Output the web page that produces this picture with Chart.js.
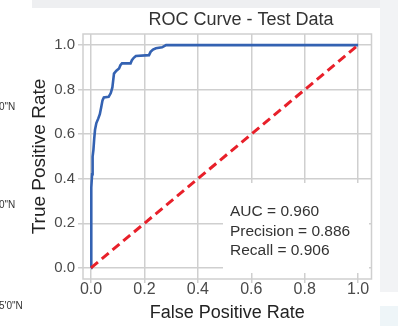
<!DOCTYPE html>
<html>
<head>
<meta charset="utf-8">
<script src="https://cdn.jsdelivr.net/npm/chart.js@4.4.1/dist/chart.umd.min.js"></script>
<style>
  html, body { margin: 0; padding: 0; background: #ffffff; }
  #wrap { position: relative; width: 398px; height: 326px; }
  canvas { display: block; }
</style>
</head>
<body>
<div id="wrap"><canvas id="c" width="398" height="326"></canvas></div>
<script>
// ---- data ----
const fpr = [0, 0, 0.002, 0.004, 0.005, 0.007, 0.009, 0.012, 0.015, 0.020, 0.027, 0.033, 0.038, 0.043, 0.048, 0.066, 0.074, 0.080, 0.086, 0.095, 0.105, 0.110, 0.116, 0.148, 0.153, 0.160, 0.168, 0.217, 0.223, 0.232, 0.243, 0.266, 0.281, 1.0];
const tpr = [0, 0.30, 0.36, 0.42, 0.45, 0.50, 0.53, 0.58, 0.62, 0.65, 0.67, 0.69, 0.72, 0.752, 0.765, 0.768, 0.785, 0.81, 0.872, 0.885, 0.895, 0.91, 0.918, 0.918, 0.932, 0.943, 0.951, 0.955, 0.970, 0.980, 0.986, 0.990, 1.0, 1.0];
const chanceX = [0, 1];
const chanceY = [0, 1];
const tickValues = [0, 0.2, 0.4, 0.6, 0.8, 1.0];
const titleText = 'ROC Curve - Test Data';
const xTitle = 'False Positive Rate';
const yTitle = 'True Positive Rate';
const statLines = ['AUC = 0.960', 'Precision = 0.886', 'Recall = 0.906'];
const mapLabels = ['0"N', '0"N', '5\'0"N'];

const FONT = "'Liberation Sans', Arial, Helvetica, sans-serif";
const GRID = '#cfcfcf';

const rocPoints = fpr.map((x, i) => ({ x: x, y: tpr[i] }));
const chancePoints = chanceX.map((x, i) => ({ x: x, y: chanceY[i] }));

const decor = {
  id: 'decor',
  beforeDraw(chart) {
    const ctx = chart.ctx;
    ctx.save();
    ctx.fillStyle = '#ffffff';
    ctx.fillRect(0, 0, chart.width, chart.height);
    ctx.fillStyle = '#eeeff1';
    ctx.fillRect(32, 0, chart.width - 32, 8);
    ctx.fillStyle = '#f2f3f5';
    ctx.fillRect(380, 0, chart.width - 380, 292);
    ctx.fillStyle = '#eef5f8';
    ctx.fillRect(380, 306, chart.width - 380, 20);
    // cropped map labels at far left
    ctx.fillStyle = '#333333';
    ctx.font = '10px ' + FONT;
    ctx.textBaseline = 'middle';
    ctx.textAlign = 'left';
    ctx.fillText(mapLabels[0], -1, 107);
    ctx.fillText(mapLabels[1], -1, 205);
    ctx.fillText(mapLabels[2], -1, 306);
    // title
    ctx.fillStyle = '#333333';
    ctx.font = '18px ' + FONT;
    ctx.textAlign = 'center';
    ctx.fillText(titleText, 241, 20);
    ctx.restore();
  },
  afterDatasetsDraw(chart) {
    const ctx = chart.ctx;
    const ca = chart.chartArea;
    ctx.save();
    // stats box
    const bx = ca.right - 148.5, by = ca.bottom - 96, bw = 146, bh = 90;
    ctx.fillStyle = '#ffffff';
    ctx.fillRect(bx, by, bw, bh);
    ctx.fillStyle = '#333333';
    ctx.font = '15.5px ' + FONT;
    ctx.textBaseline = 'middle';
    ctx.textAlign = 'left';
    statLines.forEach((t, i) => ctx.fillText(t, bx + 7, by + 29 + i * 19.5));
    // frame
    ctx.strokeStyle = GRID;
    ctx.lineWidth = 1.5;
    ctx.strokeRect(ca.left, ca.top, ca.right - ca.left, ca.bottom - ca.top);
    ctx.restore();
  }
};

new Chart(document.getElementById('c'), {
  type: 'line',
  data: {
    datasets: [
      {
        data: rocPoints,
        borderColor: '#3462b2',
        borderWidth: 2.6,
        pointRadius: 0,
        tension: 0,
        fill: false,
        order: 2
      },
      {
        data: chancePoints,
        borderColor: '#e8202a',
        borderWidth: 3,
        borderDash: [9, 5],
        pointRadius: 0,
        tension: 0,
        fill: false,
        order: 1
      }
    ]
  },
  options: {
    responsive: false,
    animation: false,
    devicePixelRatio: 1,
    layout: { padding: { top: 34, right: 26.5, left: 0, bottom: 0 } },
    plugins: { legend: { display: false }, title: { display: false }, tooltip: { enabled: false } },
    scales: {
      x: {
        type: 'linear',
        min: -0.03,
        max: 1.05,
        afterBuildTicks(s) { s.ticks = tickValues.map(v => ({ value: v })); },
        afterFit(s) { s.height = 47; },
        grid: { color: GRID, lineWidth: 1.5, tickLength: 4, tickColor: GRID },
        border: { display: false },
        ticks: {
          color: '#4a4a4a',
          font: { family: FONT, size: 16, lineHeight: 1 },
          padding: -1,
          maxRotation: 0,
          callback: v => Number(v).toFixed(1)
        },
        title: { display: true, text: xTitle, color: '#222222', font: { family: FONT, size: 18 }, padding: { top: 0, bottom: 2 } }
      },
      y: {
        type: 'linear',
        min: -0.05,
        max: 1.05,
        afterBuildTicks(s) { s.ticks = tickValues.map(v => ({ value: v })); },
        afterFit(s) { s.width = 83; },
        grid: { color: GRID, lineWidth: 1.5, tickLength: 5, tickColor: GRID },
        border: { display: false },
        ticks: {
          color: '#4a4a4a',
          font: { family: FONT, size: 15 },
          padding: 3,
          callback: v => Number(v).toFixed(1)
        },
        title: { display: true, text: yTitle, color: '#222222', font: { family: FONT, size: 19 }, padding: { top: 28, bottom: 0 } }
      }
    }
  },
  plugins: [decor]
});
</script>
</body>
</html>
